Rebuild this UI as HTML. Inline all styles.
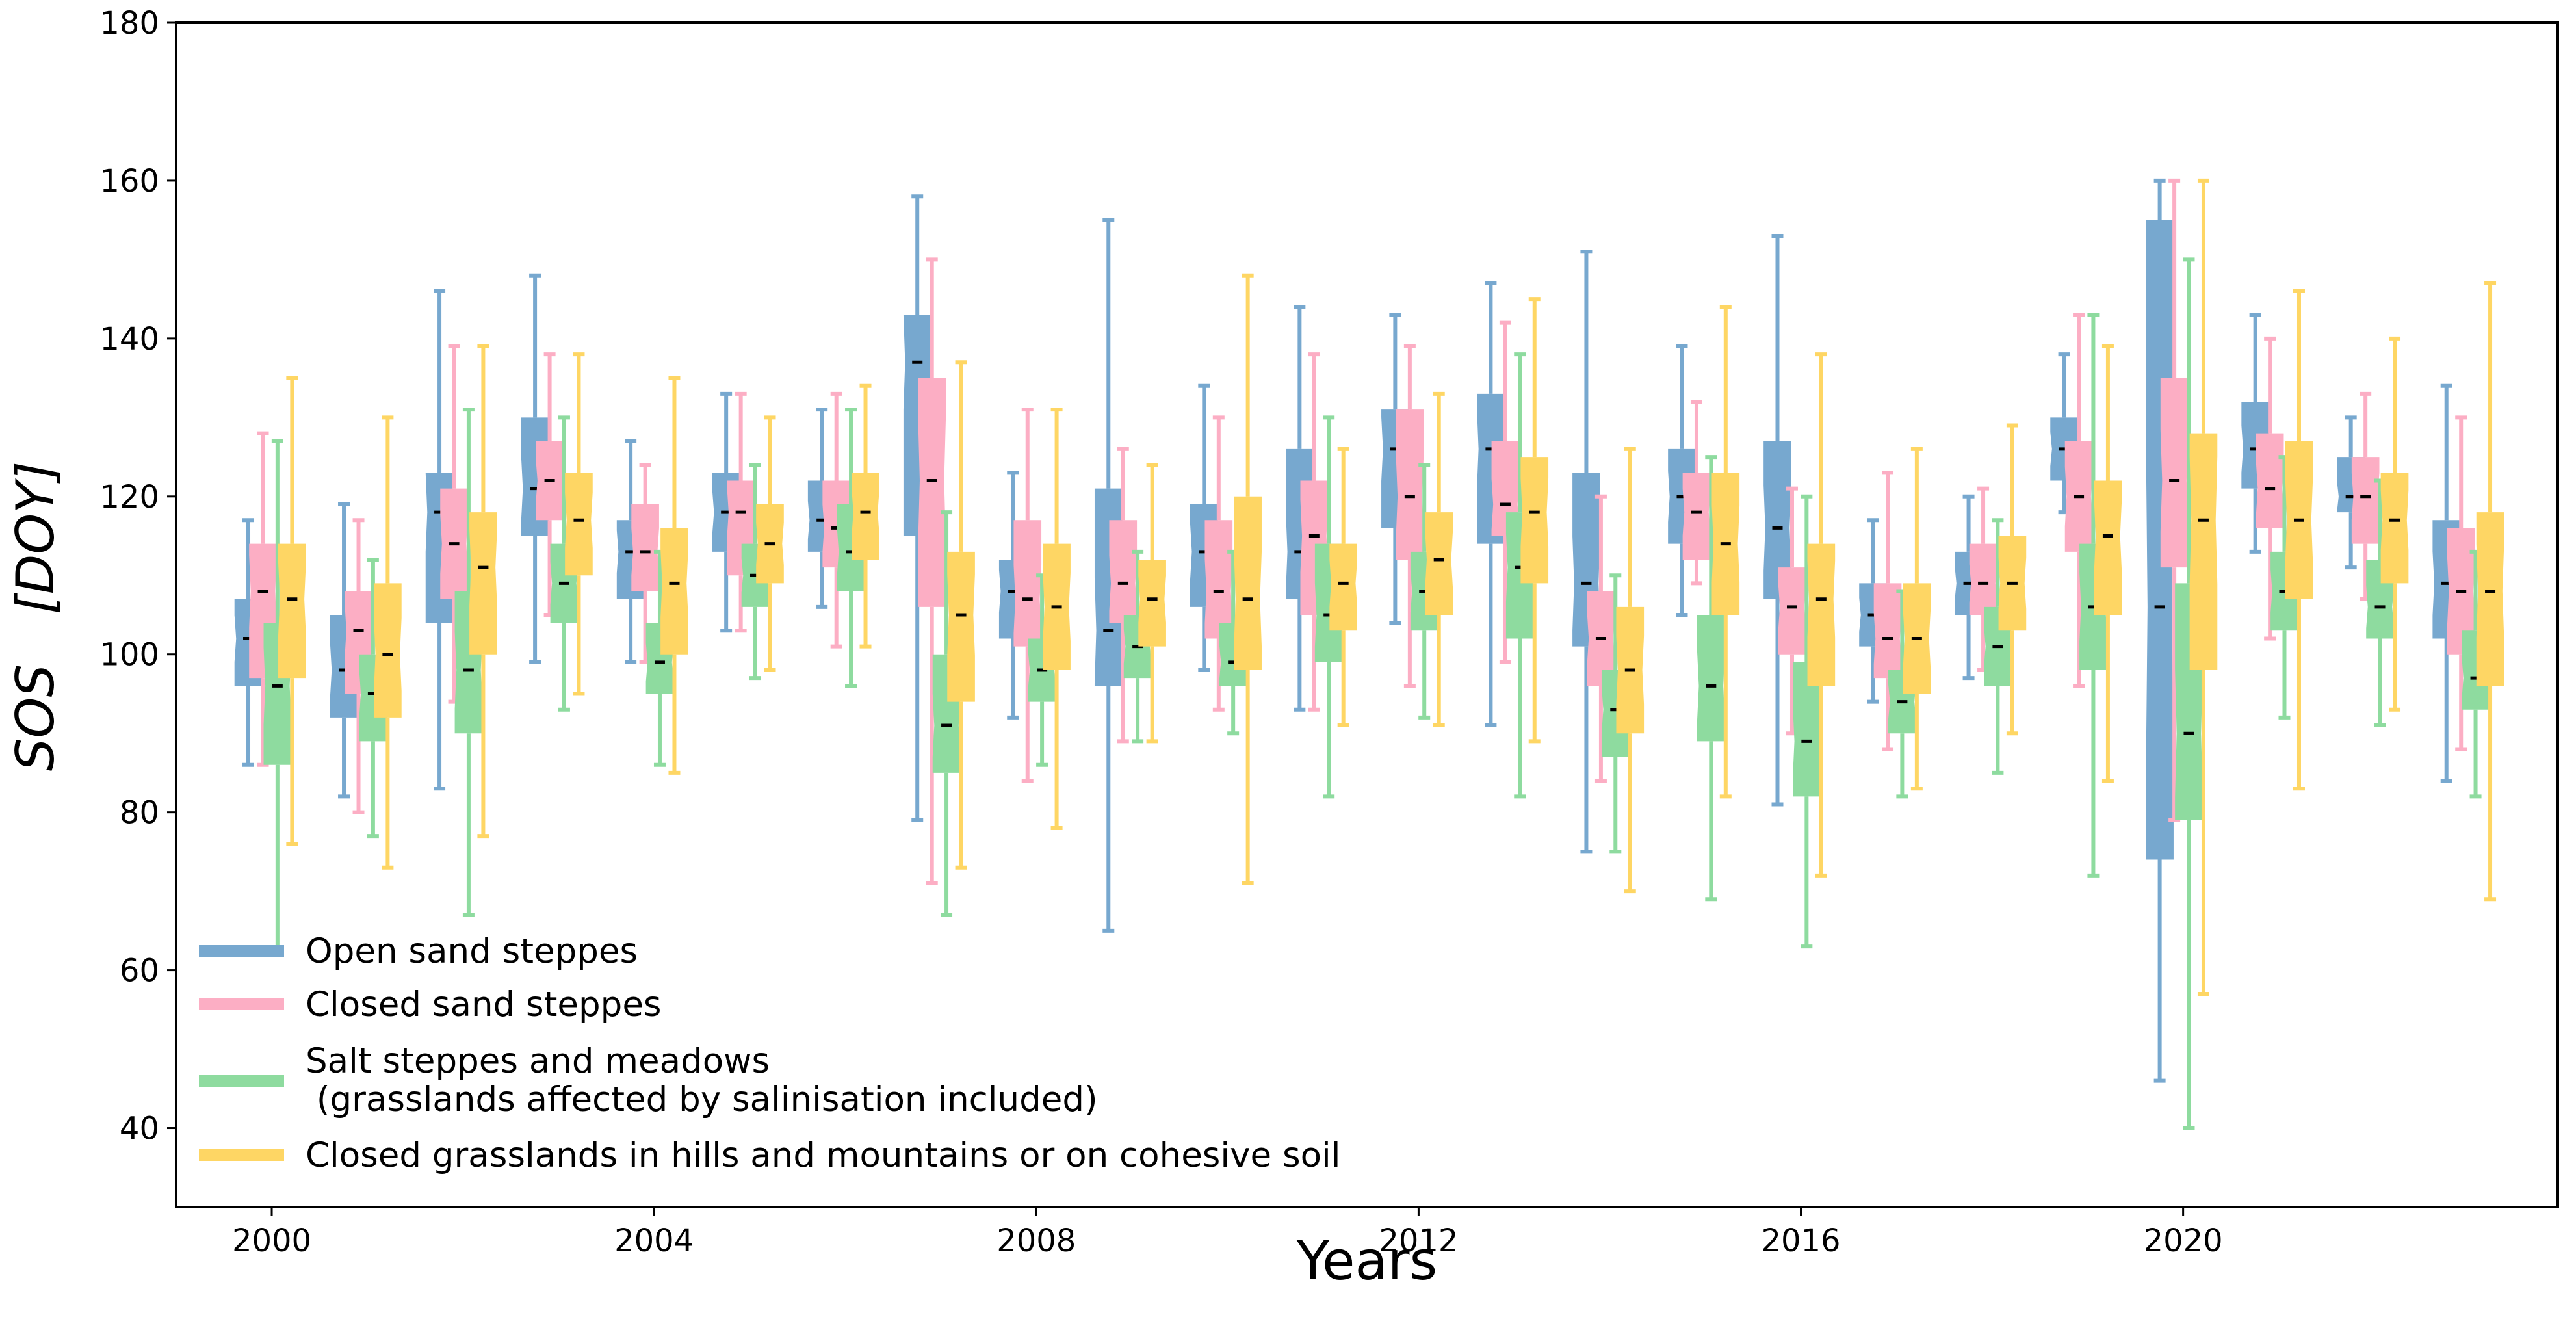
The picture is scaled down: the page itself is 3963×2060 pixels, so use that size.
<!DOCTYPE html>
<html><head><meta charset="utf-8">
<style>
html,body{margin:0;padding:0;background:#fff;}
svg{display:block;font-family:"DejaVu Sans","Liberation Sans",sans-serif;}
</style></head>
<body>
<svg id="chart" width="3963" height="2060" viewBox="0 0 3963 2060" xmlns="http://www.w3.org/2000/svg">
<rect x="0" y="0" width="3963" height="2060" fill="#fff"/>
<g id="marks"></g>
<rect x="271" y="35" width="3664" height="1822" fill="none" stroke="#000" stroke-width="4"/>
<g id="axes"></g>
<text x="2103" y="1968" font-size="82" text-anchor="middle" fill="#000">Years</text>
<text x="0" y="0" transform="translate(82,948) rotate(-90)" font-size="80" font-style="italic" text-anchor="middle" fill="#000" xml:space="preserve">SOS   [DOY]</text>
<g id="legend"></g>
</svg>
<script>
const years = [2000,2001,2002,2003,2004,2005,2006,2007,2008,2009,2010,2011,2012,2013,2014,2015,2016,2017,2018,2019,2020,2021,2022,2023];
const seriesNames = ["Open sand steppes","Closed sand steppes","Salt steppes and meadows\n (grasslands affected by salinisation included)","Closed grasslands in hills and mountains or on cohesive soil"];
// each entry: [whiskerLow, q1, median, q3, whiskerHigh]
const openSand = [[86,96,102,107,117],[82,92,98,105,119],[83,104,118,123,146],[99,115,121,130,148],[99,107,113,117,127],[103,113,118,123,133],[106,113,117,122,131],[79,115,137,143,158],[92,102,108,112,123],[65,96,103,121,155],[98,106,113,119,134],[93,107,113,126,144],[104,116,126,131,143],[91,114,126,133,147],[75,101,109,123,151],[105,114,120,126,139],[81,107,116,127,153],[94,101,105,109,117],[97,105,109,113,120],[118,122,126,130,138],[46,74,106,155,160],[113,121,126,132,143],[111,118,120,125,130],[84,102,109,117,134]];
const closedSand = [[86,97,108,114,128],[80,95,103,108,117],[94,107,114,121,139],[105,117,122,127,138],[99,108,113,119,124],[103,110,118,122,133],[101,111,116,122,133],[71,106,122,135,150],[84,101,107,117,131],[89,104,109,117,126],[93,102,108,117,130],[93,105,115,122,138],[96,112,120,131,139],[99,115,119,127,142],[84,96,102,108,120],[109,112,118,123,132],[90,100,106,111,121],[88,97,102,109,123],[98,105,109,114,121],[96,113,120,127,143],[79,111,122,135,160],[102,116,121,128,140],[107,114,120,125,133],[88,100,108,116,130]];
const saltSteppe = [[62,86,96,104,127],[77,89,95,100,112],[67,90,98,108,131],[93,104,109,114,130],[86,95,99,104,113],[97,106,110,114,124],[96,108,113,119,131],[67,85,91,100,118],[86,94,98,102,110],[89,97,101,105,113],[90,96,99,104,113],[82,99,105,114,130],[92,103,108,113,124],[82,102,111,118,138],[75,87,93,98,110],[69,89,96,105,125],[63,82,89,99,120],[82,90,94,98,108],[85,96,101,106,117],[72,98,106,114,143],[40,79,90,109,150],[92,103,108,113,125],[91,102,106,112,122],[82,93,97,103,113]];
const hillGrass = [[76,97,107,114,135],[73,92,100,109,130],[77,100,111,118,139],[95,110,117,123,138],[85,100,109,116,135],[98,109,114,119,130],[101,112,118,123,134],[73,94,105,113,137],[78,98,106,114,131],[89,101,107,112,124],[71,98,107,120,148],[91,103,109,114,126],[91,105,112,118,133],[89,109,118,125,145],[70,90,98,106,126],[82,105,114,123,144],[72,96,107,114,138],[83,95,102,109,126],[90,103,109,115,129],[84,105,115,122,139],[57,98,117,128,160],[83,107,117,127,146],[93,109,117,123,140],[69,96,108,118,147]];
const yTicks = [40,60,80,100,120,140,160,180];
const xTicks = [2000,2004,2008,2012,2016,2020];

const NS="http://www.w3.org/2000/svg";
const colors=["#77a8cf","#fcaec4","#8edb9f","#fed664"];
const offsets=[-0.245,-0.092,0.06,0.213];
const boxW=0.29;
const X0=271,X1=3935,Y0=1857,Y1=35;
const xMin=1999.0,xMax=2023.92,yMin=30,yMax=180;
function xs(v){return X0+(v-xMin)/(xMax-xMin)*(X1-X0);}
function ys(v){return Y0-(v-yMin)/(yMax-yMin)*(Y0-Y1);}
function mk(tag,attrs,parent){const e=document.createElementNS(NS,tag);for(const k in attrs)e.setAttribute(k,attrs[k]);parent.appendChild(e);return e;}

const marks=document.getElementById('marks');
const allSeries=[openSand,closedSand,saltSteppe,hillGrass];
const serKeys=["open-sand","closed-sand","salt-steppe","hill-grassland"];
years.forEach((yr,i)=>{
  allSeries.forEach((ser,s)=>{
    const d=ser[i];const c=colors[s];
    const cx=xs(yr+offsets[s]);
    const hw=(xs(yr+boxW)-xs(yr))/2;
    const g=mk('g',{},marks);
    
    
    const capW=9;
    const w1=mk('line',{x1:cx,x2:cx,y1:ys(d[0]),y2:ys(d[1]),stroke:c,'stroke-width':6},g);
    
    
    const w2=mk('line',{x1:cx,x2:cx,y1:ys(d[3]),y2:ys(d[4]),stroke:c,'stroke-width':6},g);
    
    
    [d[0],d[4]].forEach(v=>{
      const cap=mk('line',{x1:cx-capW,x2:cx+capW,y1:ys(v),y2:ys(v),stroke:c,'stroke-width':6},g);
      
      
    });
    const iqr=d[3]-d[1];
    const nh=Math.min(0.27*iqr,d[2]-d[1],d[3]-d[2]);
    const ind=hw*0.12;
    const yq1=ys(d[1]),yq3=ys(d[3]),ym=ys(d[2]),yn1=ys(d[2]-nh),yn3=ys(d[2]+nh);
    const pts=[[cx-hw,yq1],[cx-hw,yn1],[cx-hw+ind,ym],[cx-hw,yn3],[cx-hw,yq3],[cx+hw,yq3],[cx+hw,yn3],[cx+hw-ind,ym],[cx+hw,yn1],[cx+hw,yq1]];
    const box=mk('polygon',{points:pts.map(p=>p.join(',')).join(' '),fill:c},g);
    
    
    const med=mk('line',{x1:cx-8,x2:cx+8,y1:ym,y2:ym,stroke:'#000','stroke-width':5},g);
    
    
  });
});

const axes=document.getElementById('axes');
yTicks.forEach(v=>{
  const y=ys(v);
  const t=mk('line',{x1:X0-14,x2:X0,y1:y,y2:y,stroke:'#000','stroke-width':3},axes);
  
  
  const l=mk('text',{x:X0-26,y:y+17,'font-size':48,'text-anchor':'end',fill:'#000'},axes);
  l.textContent=v;
  
  
});
xTicks.forEach(v=>{
  const x=xs(v);
  const t=mk('line',{x1:x,x2:x,y1:Y0,y2:Y0+14,stroke:'#000','stroke-width':3},axes);
  
  
  const l=mk('text',{x:x,y:Y0+68,'font-size':48,'text-anchor':'middle',fill:'#000'},axes);
  l.textContent=v;
  
  
});

const legend=document.getElementById('legend');
const legY=[1463,1545,1663,1777];
seriesNames.forEach((n,i)=>{
  const r=mk('rect',{x:306,y:legY[i]-9,width:131,height:18,fill:colors[i]},legend);
  
  
  const lines=n.split('\n');
  const t=mk('text',{x:470,'font-size':53,fill:'#000'},legend);
  
  
  const baseY=lines.length>1?legY[i]-13:legY[i]+18;
  lines.forEach((ln,k)=>{
    const sp=mk('tspan',{x:470,y:baseY+k*59},t);
    sp.setAttribute('xml:space','preserve');
    sp.style.whiteSpace='pre';
    sp.textContent=ln;
  });
});
</script>
</body></html>
